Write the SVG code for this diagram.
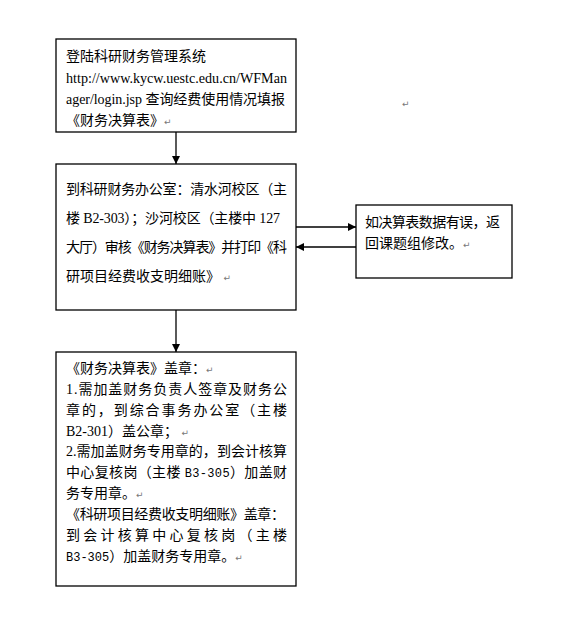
<svg xmlns="http://www.w3.org/2000/svg" width="565" height="630" viewBox="0 0 565 630">
<style>
.box{fill:#fff;stroke:#000;stroke-width:1.3}
.t{font-family:"Liberation Serif","Noto Sans CJK SC",serif;font-size:14px;fill:#000}
.m{font-family:"Liberation Mono","Noto Sans CJK SC",monospace;font-size:12px}
.pm{font-family:"DejaVu Sans",sans-serif;font-size:9px;fill:#777}
.c{stroke:#000;stroke-width:1.3;fill:none}
</style>
<defs>
<marker id="ah" markerUnits="userSpaceOnUse" markerWidth="8" markerHeight="8" refX="8" refY="4" orient="auto">
<path d="M0,0 L8,4 L0,8 z" fill="#000"/>
</marker>
</defs>
<rect width="565" height="630" fill="#fff"/>
<g id="connectors">
<line class="c" x1="176" y1="132" x2="176" y2="164" marker-end="url(#ah)"/>
<line class="c" x1="176" y1="310" x2="176" y2="352" marker-end="url(#ah)"/>
<line class="c" x1="296" y1="227" x2="356" y2="227" marker-end="url(#ah)"/>
<line class="c" x1="356" y1="247" x2="296" y2="247" marker-end="url(#ah)"/>
</g>
<g id="node-login">
<rect class="box" x="56" y="39" width="240" height="93"/>
<text class="t" x="66" y="61">登陆科研财务管理系统</text>
<text class="t" x="66" y="83" textLength="221" lengthAdjust="spacingAndGlyphs">http://www.kycw.uestc.edu.cn/WFMan</text>
<text class="t" x="66" y="104" textLength="219" lengthAdjust="spacing">ager/login.jsp 查询经费使用情况填报</text>
<text class="t" x="66" y="125">《财务决算表》<tspan class="pm">↵</tspan></text>
</g>
<text class="pm" x="402" y="107">↵</text>
<g id="node-audit">
<rect class="box" x="56" y="164" width="240" height="146"/>
<text class="t" x="66" y="194" textLength="221" lengthAdjust="spacing">到科研财务办公室：清水河校区（主</text>
<text class="t" x="66" y="223" textLength="214" lengthAdjust="spacing">楼 B2-303）；沙河校区（主楼中 127</text>
<text class="t" x="66" y="252" textLength="221" lengthAdjust="spacing">大厅）审核《财务决算表》并打印《科</text>
<text class="t" x="66" y="281">研项目经费收支明细账》 <tspan class="pm">↵</tspan></text>
</g>
<g id="node-error">
<rect class="box" x="356" y="205" width="156" height="73"/>
<text class="t" x="365" y="227" textLength="135" lengthAdjust="spacing">如决算表数据有误，返</text>
<text class="t" x="365" y="248">回课题组修改。<tspan class="pm">↵</tspan></text>
</g>
<g id="node-stamp">
<rect class="box" x="56" y="352" width="240" height="234"/>
<text class="t" x="66" y="373">《财务决算表》盖章：<tspan class="pm">↵</tspan></text>
<text class="t" x="66" y="394" textLength="221" lengthAdjust="spacing">1.需加盖财务负责人签章及财务公</text>
<text class="t" x="66" y="415" textLength="221" lengthAdjust="spacing">章的，到综合事务办公室（主楼</text>
<text class="t" x="66" y="436">B2-301）盖公章； <tspan class="pm">↵</tspan></text>
<text class="t" x="66" y="456" textLength="221" lengthAdjust="spacing">2.需加盖财务专用章的，到会计核算</text>
<text class="t" x="66" y="477" textLength="221" lengthAdjust="spacing">中心复核岗（主楼 <tspan class="m">B3-305</tspan>）加盖财</text>
<text class="t" x="66" y="498">务专用章。<tspan class="pm">↵</tspan></text>
<text class="t" x="66" y="519" textLength="219" lengthAdjust="spacing">《科研项目经费收支明细账》盖章：</text>
<text class="t" x="66" y="540" textLength="221" lengthAdjust="spacing">到会计核算中心复核岗（主楼</text>
<text class="t" x="66" y="561"><tspan class="m">B3-305</tspan>）加盖财务专用章。<tspan class="pm">↵</tspan></text>
</g>
</svg>
